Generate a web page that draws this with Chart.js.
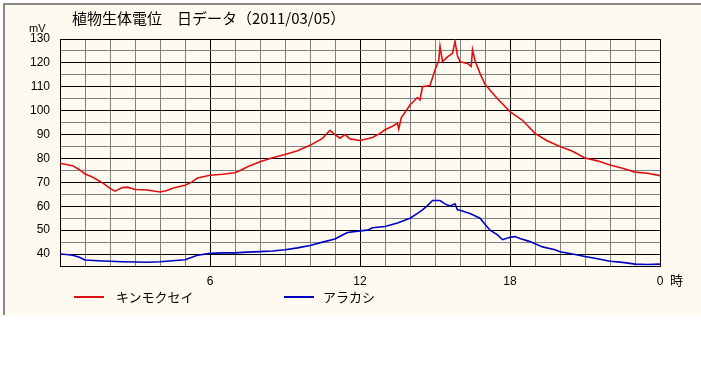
<!DOCTYPE html>
<html>
<head>
<meta charset="utf-8">
<script src="https://cdn.jsdelivr.net/npm/chart.js@4"></script>
<style>
  body { margin: 0; background: #fff; width: 701px; height: 384px; overflow: hidden; position: relative; }
  #panel { position: absolute; left: 3px; top: 3px; width: 696px; height: 310px; background: #fffaf0;
           border-left: 2px solid #8a8a8a; border-top: 2px solid #8a8a8a; }
  canvas { position: absolute; left: 0; top: 0; }
  .txt { position: absolute; font-family: "Noto Sans CJK JP", sans-serif; color: #000; white-space: nowrap; line-height: 1; }
  .key { position: absolute; height: 2px; width: 30px; }
</style>
</head>
<body>
<div id="panel"></div>
<canvas id="chart" width="701" height="384"></canvas>
<div class="txt" style="left:72px; top:10px; font-size:15px;">植物生体電位　日データ（2011/03/05）</div>
<div class="txt" style="left:29px; top:23px; font-size:11px; font-family:'Liberation Sans',sans-serif;">mV</div>
<div class="txt" style="left:670px; top:273px; font-size:13px;">時</div>
<div class="key" id="key0" style="left:74px; top:296px;"></div>
<div class="txt" style="left:116px; top:290px; font-size:13px;">キンモクセイ</div>
<div class="key" id="key1" style="left:284px; top:296px;"></div>
<div class="txt" style="left:323px; top:290px; font-size:13px;">アラカシ</div>
<script>
// 時刻(h) と電位(mV)
const kinHours = [0, 0.25, 0.5, 0.75, 1, 1.25, 1.5, 1.75, 2, 2.2, 2.5, 2.7, 3, 3.5, 4, 4.25, 4.5, 5, 5.25, 5.5,
  6, 6.5, 7, 7.25, 7.5, 8, 8.5, 9, 9.5, 10, 10.5, 10.8, 11, 11.2, 11.4, 11.6, 12, 12.5, 12.8, 13,
  13.3, 13.5, 13.55, 13.65, 14, 14.3, 14.4, 14.5, 14.8, 15, 15.15, 15.2, 15.3, 15.5, 15.7, 15.8, 15.9, 16, 16.3, 16.45,
  16.5, 16.6, 16.8, 17, 17.5, 18, 18.5, 19, 19.5, 20, 20.5, 21, 21.5, 22, 22.5, 23, 23.5, 24];
const kinValues = [78, 77.5, 77, 75.5, 73.5, 72.5, 71, 69.5, 67.5, 66.3, 67.8, 68, 67, 66.8, 66, 66.5, 67.5, 68.8, 70, 71.8,
  73, 73.4, 74, 75.2, 76.5, 78.6, 80.3, 81.7, 83.2, 85.5, 88.4, 91.8, 90, 88.5, 90, 88.2, 87.5, 88.8, 90.5, 92,
  93.5, 94.8, 92.3, 97, 102.4, 105.5, 104.5, 110, 110.5, 117, 121, 127, 120.5, 122.5, 124, 129, 123, 120.5, 119.8, 118.5,
  125.5, 121, 115.6, 111, 105, 99.6, 96, 90.5, 87.3, 85, 83, 80.2, 79, 77.3, 75.9, 74.3, 73.8, 72.8];

const araHours = [0, 0.25, 0.5, 0.75, 1, 1.5, 2, 2.5, 3, 3.5, 4, 4.5, 5, 5.5, 6, 6.5, 7, 7.5, 8, 8.5,
  9, 9.5, 10, 10.5, 11, 11.3, 11.5, 12, 12.3, 12.5, 13, 13.5, 14, 14.3, 14.5, 14.7, 14.9, 15.2, 15.4, 15.6,
  15.8, 15.9, 16, 16.4, 16.8, 17, 17.2, 17.5, 17.7, 18, 18.2, 18.4, 18.8, 19.3, 19.8, 20, 20.5, 21, 21.5, 22,
  22.5, 23, 23.5, 24];
const araValues = [40, 39.8, 39.5, 38.8, 37.5, 37.2, 37, 36.8, 36.7, 36.6, 36.8, 37.2, 37.6, 39.5, 40.3, 40.5, 40.5, 40.8, 41, 41.3,
  41.8, 42.6, 43.6, 45, 46.3, 48, 49, 49.7, 50, 51, 51.5, 53, 55, 57, 58.5, 60.3, 62.4, 62.4, 61, 60.1,
  61, 58.5, 58.3, 57, 55, 52.5, 50, 48, 46, 47, 47.3, 46.5, 45.2, 43, 41.8, 41, 40, 39, 38, 37,
  36.5, 35.8, 35.6, 35.8];

const seriesNames = ['キンモクセイ', 'アラカシ'];
const seriesColors = ['#dd1111', '#0000c0'];

document.getElementById('key0').style.background = seriesColors[0];
document.getElementById('key1').style.background = seriesColors[1];

const tickFont = { family: 'Liberation Sans', size: 12 };
const gridBlack = '#000000';
const gridGray = '#808080';

new Chart(document.getElementById('chart'), {
  type: 'line',
  data: {
    datasets: [
      {
        label: seriesNames[0],
        data: kinHours.map((h, i) => ({ x: h, y: kinValues[i] })),
        borderColor: seriesColors[0],
        borderWidth: 1.6,
        pointRadius: 0,
        tension: 0
      },
      {
        label: seriesNames[1],
        data: araHours.map((h, i) => ({ x: h, y: araValues[i] })),
        borderColor: seriesColors[1],
        borderWidth: 1.6,
        pointRadius: 0,
        tension: 0
      }
    ]
  },
  options: {
    responsive: false,
    animation: false,
    layout: { padding: { top: 39, right: 41, left: 0, bottom: 0 } },
    plugins: { legend: { display: false }, tooltip: { enabled: false } },
    scales: {
      x: {
        type: 'linear',
        min: 0,
        max: 24,
        afterFit: scale => { scale.height = 118; },
        ticks: {
          stepSize: 1,
          autoSkip: false,
          maxRotation: 0,
          padding: 8,
          color: '#000',
          font: tickFont,
          callback: v => (v % 6 === 0 && v > 0) ? (v === 24 ? '0' : String(v)) : ''
        },
        grid: {
          drawTicks: false,
          color: ctx => (ctx.tick.value % 6 === 0 ? gridBlack : gridGray),
          lineWidth: 1
        },
        border: { color: '#000' }
      },
      y: {
        min: 35,
        max: 130,
        afterFit: scale => { scale.width = 60; },
        ticks: {
          stepSize: 5,
          autoSkip: false,
          padding: 10,
          color: '#000',
          font: tickFont,
          callback: v => (v % 10 === 0 ? String(v) : '')
        },
        grid: {
          drawTicks: false,
          color: ctx => (ctx.tick.value % 10 === 0 || ctx.tick.value === 35 ? gridBlack : gridGray),
          lineWidth: 1
        },
        border: { color: '#000' }
      }
    }
  }
});
</script>
</body>
</html>
